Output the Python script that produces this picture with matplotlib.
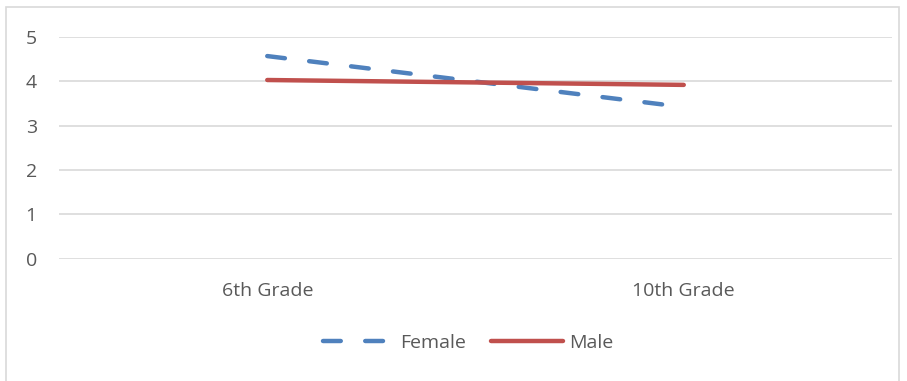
import matplotlib
matplotlib.use("Agg")
import matplotlib.pyplot as plt
from matplotlib.patches import Rectangle

categories = ["6th Grade", "10th Grade"]
female = [4.57, 3.42]
male = [4.03, 3.92]
yticks = [0, 1, 2, 3, 4, 5]

plt.rcParams['font.family'] = ['Open Sans', 'DejaVu Sans']
W, H = 907, 381
fig = plt.figure(figsize=(W/100, H/100), dpi=100)
fig.patches.append(Rectangle((6/W, -0.1), 893/W, (1 - 7/H) + 0.1, transform=fig.transFigure,
                             fill=False, edgecolor='#D9D9D9', linewidth=1.2))
ax = fig.add_axes([59/W, 1 - 258.7/H, (892 - 59)/W, (258.7 - 37)/H])
x = list(range(len(categories)))
ax.plot(x, female, color='#4F81BD', linewidth=3.2, dashes=(4, 5.5),
        dash_capstyle='round', solid_capstyle='round', label='Female')
ax.plot(x, male, color='#C0504D', linewidth=3.2, solid_capstyle='round', label='Male')
ax.set_xlim(-0.5, 1.5)
ax.set_ylim(0, 5)
ax.set_yticks(yticks)
ax.set_xticks(x)
ax.set_xticklabels(categories)
ax.grid(axis='y', color='#D9D9D9', linewidth=1.2)
ax.set_axisbelow(True)
for s in ax.spines.values():
    s.set_visible(False)
ax.tick_params(length=0, labelsize=14, colors='#595959')
ax.tick_params(axis='y', pad=16)
ax.tick_params(axis='x', pad=17)
leg = ax.legend(loc='center', bbox_to_anchor=(468/W, 1 - 343/H), bbox_transform=fig.transFigure,
                ncol=2, frameon=False, fontsize=14, handlelength=3.7, handletextpad=0.3,
                columnspacing=1.3)
for t in leg.get_texts():
    t.set_color('#595959')
fig.savefig("out.png", dpi=100)
